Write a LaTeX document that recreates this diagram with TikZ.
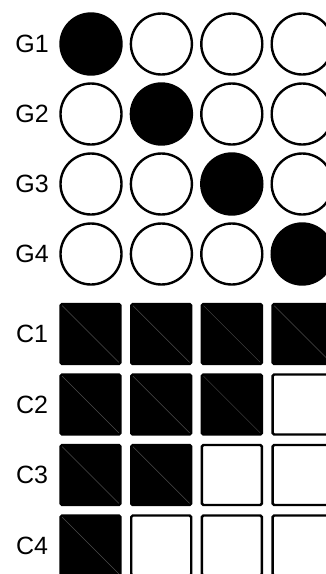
\documentclass[tikz,border=0pt]{standalone}
\usepackage{fontspec}
\setmainfont{Liberation Sans}

\tikzset{
  lab/.style={font=\fontsize{25}{30}\selectfont},
  ring/.style={draw,circle,minimum size=61pt,inner sep=0pt,fill=white},
  dot/.style={ring,fill=black},
  cell/.style={draw,rectangle,rounded corners=1.5pt,minimum size=60pt,inner sep=0pt,fill=white},
  full/.style={cell,fill=black,
    path picture={\draw[line width=0.5pt,black!70!white]
      (path picture bounding box.north west) -- (path picture bounding box.south east);}}
}

\begin{document}
\begin{tikzpicture}[x=1pt,y=-1pt,line width=2.4pt]
  \useasboundingbox (0,0) rectangle (326,574);
  \clip (0,0) rectangle (326,574);

  % G rows: one filled circle on the diagonal
  \foreach \r in {1,...,4} {
    \node[lab] (g\r) at (32,{44+70*(\r-1)}) {G\r};
    \foreach \c in {1,...,4} {
      \ifnum\c=\r \def\st{dot}\else \def\st{ring}\fi
      \node[\st] (dot\r\c) at ({91+70.4*(\c-1)},{44+70*(\r-1)}) {};
    }
  }

  % C rows: filled squares from the left
  \foreach \r in {1,...,4} {
    \node[lab] (c\r) at (32,{334+70.5*(\r-1)}) {C\r};
    \foreach \c in {1,...,4} {
      \pgfmathtruncatemacro\n{5-\r}
      \ifnum\c>\n \def\st{cell}\else \def\st{full}\fi
      \node[\st] (box\r\c) at ({90.5+70.7*(\c-1)},{334+70.5*(\r-1)}) {};
    }
  }
\end{tikzpicture}
\end{document}
